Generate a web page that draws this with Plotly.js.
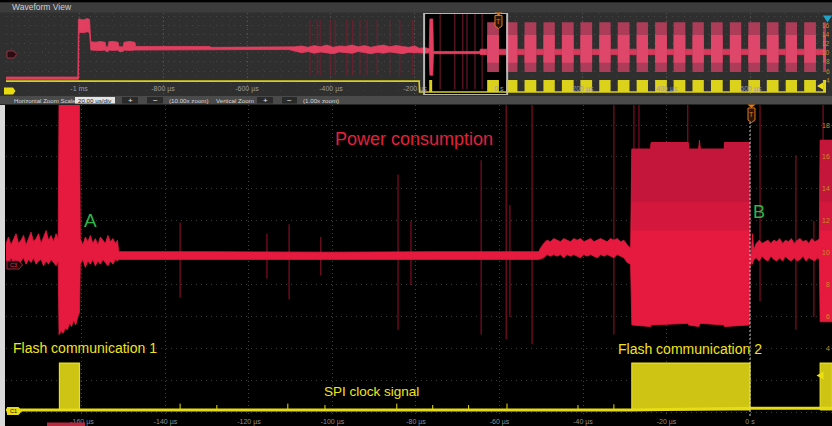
<!DOCTYPE html>
<html>
<head>
<meta charset="utf-8">
<script src="https://cdn.plot.ly/plotly-3.0.1.min.js"></script>
<style>
html, body { margin: 0; padding: 0; background: #000; overflow: hidden; }
#chart { width: 832px; height: 426px; }
</style>
</head>
<body>
<div id="chart"></div>
<script>
// ---------- Axis labels ----------
const mainTickVals = [-160, -140, -120, -100, -80, -60, -40, -20, 0];
const mainTickText = ['-160 µs', '-140 µs', '-120 µs', '-100 µs', '-80 µs', '-60 µs', '-40 µs', '-20 µs', '0 s'];
const ovTickVals = [-1000, -800, -600, -400, -200, 0, 200, 400, 600];
const ovTickText = ['-1 ms', '-800 µs', '-600 µs', '-400 µs', '-200 µs', '0 s', '200 µs', '400 µs', '600 µs'];
const c3ScaleMain = [4, 6, 8, 10, 12, 14, 16, 18];
const c3ScaleOverview = [4, 6, 8, 10, 12, 14, 16];

// ---------- Channel 3 (power), zoomed window: envelope, time in µs ----------
const c3T = [
  -178.2, -177.6, -177.0, -176.4, -175.8, -175.2, -174.6, -174.0, -173.4, -172.8, -172.2, -171.6, -171.0, -170.4, -169.8, -169.2, -168.6, -168.0, -167.4, -166.8, -166.2, -165.7,
  -165.5, -165.0, -164.5, -164.0, -163.5, -163.0, -162.5, -162.0, -161.5, -161.0, -160.6,
  -160.4, -159.8, -159.2, -158.6, -158.0, -157.4, -156.8, -156.2, -155.6, -155.0, -154.4, -153.8, -153.2, -152.6, -152.0, -151.5,
  -151.2, -130.0, -100.0, -75.0, -50.6,
  -50.2, -49.4, -48.6, -47.8, -47.0, -46.2, -45.4, -44.6, -43.8, -43.0, -42.2, -41.4, -40.6, -39.8, -39.0, -38.2, -37.4, -36.6, -35.8, -35.0, -34.2, -33.4, -32.6, -31.8, -31.0, -30.2, -29.4, -28.6,
  -28.3, -23.8, -23.7, -14.8, -14.7, -12.3, -12.1, -11.9, -6.2, -6.1, -0.1,
  0.0, 0.3, 0.6, 0.9, 1.5, 2.2, 2.9, 3.6, 4.3, 5.0, 5.7, 6.4, 7.1, 7.8, 8.5, 9.2, 9.9, 10.6, 11.3, 12.0, 12.7, 13.4, 14.1, 14.8, 15.5, 16.2, 16.6,
  16.8, 19.7
];
const c3Hi = [
  10.6, 11.0, 10.5, 10.9, 11.2, 10.6, 10.8, 11.1, 10.5, 10.9, 11.3, 10.7, 10.9, 11.2, 10.6, 11.0, 11.4, 10.8, 11.1, 10.7, 11.2, 10.9,
  19.5, 19.5, 19.5, 19.5, 19.5, 19.5, 19.5, 19.5, 19.5, 19.5, 19.5,
  10.9, 10.5, 11.0, 10.7, 11.1, 10.6, 10.9, 10.5, 11.0, 10.8, 10.6, 11.1, 10.7, 10.9, 10.6, 10.8,
  10.08, 10.08, 10.05, 10.08, 10.08,
  10.3, 10.6, 10.8, 10.7, 10.9, 10.8, 10.7, 10.9, 10.8, 10.7, 10.9, 10.8, 10.9, 10.7, 10.8, 10.9, 10.7, 10.8, 10.9, 10.8, 10.7, 10.9, 10.8, 10.9, 10.7, 10.8, 10.5, 10.3,
  16.5, 16.5, 16.9, 16.9, 16.5, 16.5, 17.05, 16.5, 16.5, 16.9, 16.9,
  9.8, 10.0, 11.2, 10.2, 10.6, 10.8, 10.6, 10.7, 10.8, 10.6, 10.8, 10.7, 10.9, 10.6, 10.8, 10.7, 10.9, 10.6, 10.8, 10.9, 10.7, 10.8, 10.6, 10.9, 10.7, 10.8, 10.9,
  17.05, 17.05
];
const c3Lo = [
  9.6, 9.3, 9.7, 9.4, 9.6, 9.2, 9.5, 9.7, 9.3, 9.6, 9.4, 9.7, 9.3, 9.5, 9.6, 9.2, 9.5, 9.3, 9.6, 9.4, 9.2, 9.5,
  4.9, 5.1, 5.0, 5.3, 5.2, 5.6, 5.4, 5.8, 5.5, 6.0, 6.3,
  9.3, 9.6, 9.1, 9.5, 9.3, 9.6, 9.2, 9.5, 9.3, 9.6, 9.4, 9.2, 9.5, 9.3, 9.6, 9.5,
  9.6, 9.6, 9.6, 9.6, 9.6,
  9.6, 9.7, 9.9, 9.8, 9.9, 9.8, 9.9, 9.7, 9.9, 9.8, 9.9, 9.8, 9.7, 9.9, 9.8, 9.9, 9.8, 9.7, 9.9, 9.8, 9.9, 9.8, 9.7, 9.9, 9.8, 9.7, 9.4, 9.3,
  5.5, 5.4, 5.5, 5.6, 5.5, 5.4, 5.5, 5.6, 5.5, 5.4, 5.5,
  9.2, 9.4, 9.3, 9.6, 9.7, 9.5, 9.8, 9.6, 9.5, 9.8, 9.6, 9.5, 9.7, 9.5, 9.8, 9.6, 9.5, 9.7, 9.5, 9.6, 9.8, 9.5, 9.7, 9.6, 9.5, 9.7, 9.6,
  5.7, 5.7
];
// upper, less dense part of the flash bursts (two shading steps)
const c3DimStart = [-28.3, 16.8];
const c3DimEnd = [-0.1, 19.7];
const c3DimFloorLight = [11.4, 11.4];
const c3DimFloorDark = [13.2, 13.2];
// glitch spikes on the supply trace
const c3SpikeT  = [-136.5, -115.7, -110.4, -102.8, -84.3, -81.2, -64.4, -58.4, -57.5, -52.2, -32.6, -27.8, -26.6, -14.9, 2.4, 11.0, 15.3, 17.5];
const c3SpikeLo = [7.2, 8.4, 7.1, 8.6, 5.2, 8.0, 4.9, 4.6, 6.0, 4.3, 4.9, 14.0, 14.0, 16.4, 7.0, 5.2, 6.0, 16.0];
const c3SpikeHi = [11.9, 11.2, 11.8, 11.0, 14.9, 12.0, 15.8, 19.3, 13.0, 19.3, 19.3, 19.3, 19.3, 19.3, 19.3, 16.1, 12.0, 19.3];

// ---------- Channel 1 (SPI clock), zoomed window, volts ----------
const c1BaseT = [-178.2, -100.0, -28.3, 0.0, 16.8, 19.7];
const c1BaseV = [0.0, 0.0, 0.0, 0.12, 0.12, 0.12];
const c1BurstStart = [-165.4, -28.3, 16.8];
const c1BurstEnd = [-160.6, 0.0, 19.7];
const c1BurstHigh = [3.3, 3.3, 3.3];
const c1TickT = [-136.5, -127.7, -110.7, -101.8, -84.6, -76.0, -67.4, -58.2, -41.2, -32.6];
const c1TickHi = [0.45, 0.35, 0.45, 0.35, 0.45, 0.35, 0.35, 0.45, 0.35, 0.4];

// ---------- Overview record (channel 3 envelope before the first burst) ----------
const ovT = [
  -1174, -1003, -1001.5, -1000.5, -990, -980, -975, -972, -960, -950, -938, -936, -931, -929, -920, -907, -905, -895, -893, -880, -867, -865, -800, -688, -686, -600, -500, -486,
  -470, -455, -440, -425, -410, -395, -380, -365, -350, -335, -320, -305, -290, -275, -260, -245, -230, -215, -200,
  -190, -175, -166, -164.5, -157.5, -156, -100, -46, -44, -29
];
const ovHi = [
  4.7, 4.7, 17.4, 17.4, 17.2, 17.5, 17.3, 12.4, 12.3, 12.5, 12.3, 11.3, 11.3, 12.4, 12.5, 12.3, 11.3, 11.3, 12.3, 12.5, 12.3, 11.4, 11.4, 11.4, 11.2, 11.2, 11.2, 11.3,
  11.5, 11.2, 11.6, 11.3, 11.7, 11.2, 11.5, 11.4, 11.7, 11.3, 11.6, 11.2, 11.5, 11.7, 11.3, 11.6, 11.4, 11.2, 11.5,
  11.0, 11.1, 10.9, 17.4, 17.4, 10.3, 10.3, 10.3, 10.8, 10.8
];
const ovLo = [
  4.2, 4.2, 4.2, 14.5, 14.4, 14.6, 14.4, 10.6, 10.6, 10.5, 10.6, 10.3, 10.3, 10.6, 10.5, 10.6, 10.3, 10.3, 10.6, 10.5, 10.6, 10.6, 10.6, 10.6, 10.7, 10.7, 10.7, 10.4,
  10.0, 10.3, 9.9, 10.2, 10.0, 9.8, 10.2, 10.0, 9.9, 10.3, 10.0, 9.8, 10.1, 9.9, 10.2, 10.0, 9.8, 10.1, 10.0,
  10.0, 9.9, 10.0, 5.1, 5.1, 9.8, 9.8, 9.8, 9.6, 9.6
];
// flash bursts seen in the overview (µs)
const ovBurstStart = [-28, 17, 61, 106, 150, 194, 239, 283, 328, 372, 416, 461, 505, 550, 594, 638, 683, 727, 772];
const ovBurstEnd   = [0, 44, 89, 133, 178, 222, 266, 311, 355, 400, 444, 488, 533, 577, 622, 666, 710, 755, 790];
const ovBurstTop = 16.7, ovBurstBottom = 5.8, ovCoreTop = 13.9, ovCoreBottom = 7.8;
const ovIdleTop = 10.8, ovIdleBottom = 9.6;
const ovSpikeT = [-450, -433, -426, -402, -390, -362, -348, -331, -314, -290, -260, -236, -205, -140, -105, -86, -76, -57, -40];
const ovSpikeLo = [5.1, 5.1, 5.1, 5.1, 5.1, 5.1, 5.1, 5.1, 5.1, 5.1, 5.1, 5.1, 5.1, 2.0, 2.0, 2.0, 2.0, 2.0, 2.0];
const ovSpikeHi = [17.2, 17.2, 17.2, 17.2, 17.2, 17.2, 17.2, 17.2, 17.2, 17.2, 17.2, 17.2, 17.2, 18.5, 18.5, 18.5, 18.5, 18.5, 18.5];
// channel 1 in the overview (volts)
const ovC1BaseT = [-1174, -190, -189, 779];
const ovC1BaseV = [3.0, 3.0, 0.0, 0.0];
const ovC1PulseStart = [-166];
const ovC1PulseEnd = [-159];
const ovC1High = 3.3;

// ---------- helpers that turn the arrays into drawable outlines ----------
function envelope(t, hi, lo) {
  return { x: t.concat(t.slice().reverse()), y: hi.concat(lo.slice().reverse()) };
}
function blocks(starts, ends, top, bottom) {
  const x = [], y = [];
  starts.forEach((s, i) => {
    const e = ends[i];
    const tp = Array.isArray(top) ? top[i] : top;
    const bt = Array.isArray(bottom) ? bottom[i] : bottom;
    x.push(s, s, e, e, s, null);
    y.push(bt, tp, tp, bt, bt, null);
  });
  return { x, y };
}
function spikes(t, lo, hi) {
  const x = [], y = [];
  t.forEach((v, i) => { x.push(v, v, null); y.push(lo[i], hi[i], null); });
  return { x, y };
}
// part of each burst envelope above a given floor
function burstTops(floors) {
  const x = [], y = [];
  c3DimStart.forEach((s, k) => {
    const e = c3DimEnd[k];
    c3T.forEach((t, i) => { if (t >= s && t <= e) { x.push(t); y.push(c3Hi[i]); } });
    x.push(e, s, null);
    y.push(floors[k], floors[k], null);
  });
  return { x, y };
}
function gapsBetween(starts, ends, top, bottom) {
  const s = [], e = [];
  for (let i = 0; i < starts.length - 1; i++) { s.push(ends[i]); e.push(starts[i + 1]); }
  return blocks(s, e, top, bottom);
}

const RED = '#e6193f';
const SPIKE = '#8c1028';
const YEL = '#e6dc12';
const YELBLK = '#cdc414';

const traces = [];
function poly(shape, color, xa, ya, lw) {
  traces.push({ type: 'scatter', mode: 'lines', x: shape.x, y: shape.y, xaxis: xa, yaxis: ya,
    fill: 'toself', fillcolor: color, line: { color: color, width: lw === undefined ? 0.6 : lw },
    hoverinfo: 'skip', connectgaps: false });
}
function lines(shape, color, width, xa, ya) {
  traces.push({ type: 'scatter', mode: 'lines', x: shape.x, y: shape.y, xaxis: xa, yaxis: ya,
    line: { color: color, width: width }, hoverinfo: 'skip', connectgaps: false });
}

// ---- overview ----
lines(spikes(ovSpikeT, ovSpikeLo, ovSpikeHi), '#7c1c30', 1, 'x2', 'y3');
poly(gapsBetween(ovBurstStart, ovBurstEnd, ovIdleTop, ovIdleBottom), '#d83a5c', 'x2', 'y3');
poly(blocks(ovBurstStart, ovBurstEnd, ovBurstTop, ovBurstBottom), '#ad3c58', 'x2', 'y3', 0);
poly(blocks(ovBurstStart, ovBurstEnd, ovCoreTop, ovCoreBottom), '#de4769', 'x2', 'y3', 0);
poly(envelope(ovT, ovHi, ovLo), '#e23e60', 'x2', 'y3', 0.8);
lines({ x: ovC1BaseT, y: ovC1BaseV }, '#d8ce1e', 1.6, 'x2', 'y4');
poly(blocks(ovC1PulseStart.concat(ovBurstStart), ovC1PulseEnd.concat(ovBurstEnd), ovC1High, 0), '#dcd21c', 'x2', 'y4', 0);

// ---- zoomed window ----
lines(spikes(c3SpikeT, c3SpikeLo, c3SpikeHi), SPIKE, 1.1, 'x', 'y');
poly(envelope(c3T, c3Hi, c3Lo), RED, 'x', 'y', 0.8);
poly(burstTops(c3DimFloorLight), '#d4183d', 'x', 'y', 0);
poly(burstTops(c3DimFloorDark), '#c3163a', 'x', 'y', 0);
lines(spikes(c1TickT, c1TickT.map(() => 0), c1TickHi), YEL, 1, 'x', 'y2');
poly(blocks(c1BurstStart, c1BurstEnd, c1BurstHigh, 0), YELBLK, 'x', 'y2', 0);
lines({ x: c1BaseT, y: c1BaseV }, YEL, 3, 'x', 'y2');
lines(blocks(c1BurstStart, c1BurstEnd, c1BurstHigh, 0), '#e8de24', 1.2, 'x', 'y2');

// ---------- layout ----------
const W = 832, H = 426;
const px = v => v / W;
const py = v => 1 - v / H;
const FONT = 'Liberation Sans, Arial, sans-serif';

function rect(x0, y0, x1, y1, fill, layer, line) {
  return { type: 'rect', xref: 'paper', yref: 'paper', x0: px(x0), x1: px(x1), y0: py(y1), y1: py(y0),
    fillcolor: fill, line: line || { width: 0 }, layer: layer || 'below' };
}
function path(points, fill, line) {
  const d = points.map((p, i) => (i ? 'L' : 'M') + px(p[0]).toFixed(5) + ',' + py(p[1]).toFixed(5)).join(' ') + ' Z';
  return { type: 'path', xref: 'paper', yref: 'paper', path: d, fillcolor: fill,
    line: line || { width: 0 }, layer: 'above' };
}
function label(text, x, y, size, color, anchor, extra) {
  return Object.assign({ text: text, xref: 'paper', yref: 'paper', x: px(x), y: py(y),
    xanchor: anchor || 'left', yanchor: 'middle', showarrow: false,
    font: { family: FONT, size: size, color: color } }, extra || {});
}

const shapes = [
  rect(0, 2.5, 832, 95.5, '#2f2f2f'),
  rect(0, 2.5, 832, 12.5, '#3c3c3c'),
  rect(0, 95.5, 832, 104.5, '#4a4a4a'),
  rect(0, 105, 5, 426, '#d9d9d9'),
  // zoom window inside the overview (over the grid, under the traces)
  { type: 'rect', xref: 'x2', yref: 'y3', x0: -178.2, x1: 19.6, y0: 0.77, y1: 18.71, fillcolor: '#000', line: { width: 0 }, layer: 'between' },
  { type: 'rect', xref: 'x2', yref: 'y3', x0: -178.2, x1: 19.6, y0: 0.77, y1: 18.71, fillcolor: 'rgba(0,0,0,0)', line: { color: '#b6b6b6', width: 2 }, layer: 'above' },
  // control bar widgets
  rect(75, 97, 115, 103.5, '#e4e4e4', 'above'),
  rect(122, 97, 138, 103.5, '#2a2a2a', 'above'),
  rect(147, 97, 163, 103.5, '#2a2a2a', 'above'),
  rect(257, 97, 273, 103.5, '#2a2a2a', 'above'),
  rect(282, 97, 297, 103.5, '#2a2a2a', 'above'),
  // trigger position
  { type: 'line', xref: 'x', yref: 'paper', x0: 0, x1: 0, y0: py(416), y1: py(122), line: { color: '#cfcfcf', width: 1, dash: '2px,2px' }, layer: 'above' },
  path([[747.5, 104.5], [755.5, 104.5], [751.5, 108]], '#e07a18'),
  path([[748, 108], [755, 108], [755, 120], [751.5, 122.5], [748, 120]], '#2a1404', { color: '#e07a18', width: 1 }),
  path([[494.5, 12.5], [502.5, 12.5], [498.5, 15.5]], '#e07a18'),
  path([[495, 15.5], [502, 15.5], [502, 26], [498.5, 28.5], [495, 26]], '#2a1404', { color: '#e07a18', width: 1 }),
  // channel badges
  path([[7, 261], [19, 261], [22.5, 265], [19, 269], [7, 269]], '#1c0609', { color: '#a02236', width: 1 }),
  path([[7, 407], [18.5, 407], [22, 411], [18.5, 415], [7, 415]], '#e8dc10'),
  path([[7, 51], [14, 51], [16.5, 54.5], [14, 58], [7, 58]], '#2a0c12', { color: '#9a3040', width: 1 }),
  path([[4, 87.5], [13, 87.5], [15.5, 91], [13, 94.5], [4, 94.5]], '#e8dc10'),
  // trigger level arrows and overview marker
  path([[823.5, 371.5], [816.5, 375.5], [823.5, 379.5]], '#ecdf14'),
  path([[823, 82.5], [817, 86], [823, 89.5]], '#ecdf14'),
  path([[823, 15.5], [832, 15.5], [827.5, 22.5]], '#1fa3c8'),
  rect(47, 422.5, 85, 426, '#b8283f', 'above')
];

const annotations = [
  label('Waveform View', 10, 7.5, 8.5, '#d0d0d0'),
  label('Horizontal Zoom Scale', 12, 100.3, 6.1, '#d6d6d6'),
  label('20.00 us/div', 95, 100.3, 6.2, '#222', 'center'),
  label('+', 130, 100.1, 8, '#eeeeee', 'center'),
  label('−', 155, 100.1, 8, '#eeeeee', 'center'),
  label('(10.00x zoom)', 167, 100.3, 6.2, '#d6d6d6'),
  label('Vertical Zoom', 214, 100.3, 6.2, '#d6d6d6'),
  label('+', 265, 100.1, 8, '#eeeeee', 'center'),
  label('−', 289.5, 100.1, 8, '#eeeeee', 'center'),
  label('(1.00x zoom)', 301, 100.3, 6.2, '#d6d6d6'),
  label('Power consumption', 414, 139, 18, '#e3203e', 'center'),
  label('A', 90, 220, 19, '#2db54c', 'center'),
  label('B', 759, 212, 18, '#2db54c', 'center'),
  label('Flash communication 1', 11, 348, 14, '#f2e41a'),
  label('Flash communication 2', 616, 349, 14, '#f2e41a'),
  label('SPI clock signal', 322, 391, 13.5, '#f2e41a'),
  label('C3', 13.5, 265.2, 5.5, '#d83452', 'center'),
  label('C1', 13, 411.2, 5.5, '#111', 'center'),
  label('T', 751.5, 114.5, 7, '#e07a18', 'center'),
  label('T', 498.5, 21.5, 7, '#e07a18', 'center')
];
c3ScaleMain.forEach(v => annotations.push({ text: String(v), xref: 'paper', yref: 'y', x: px(832), y: v,
  xanchor: 'right', yanchor: 'middle', showarrow: false, font: { family: FONT, size: 7, color: '#d08a28' } }));
c3ScaleOverview.forEach(v => annotations.push({ text: String(v), xref: 'paper', yref: 'y3', x: px(832), y: v,
  xanchor: 'right', yanchor: 'middle', showarrow: false, font: { family: FONT, size: 6.5, color: '#d08a28' } }));

const layout = {
  width: W, height: H,
  margin: { l: 0, r: 0, t: 0, b: 0, pad: 0 },
  paper_bgcolor: '#000', plot_bgcolor: 'rgba(0,0,0,0)',
  showlegend: false,
  font: { family: FONT },
  xaxis: {
    domain: [px(6), 1], range: [-178.2, 19.64], anchor: 'y',
    tickmode: 'array', tickvals: mainTickVals, ticktext: mainTickText, ticks: '',
    tickfont: { size: 7, color: '#8e8e8e' },
    showgrid: true, gridcolor: '#3e3e3e', griddash: '1px,3px', gridwidth: 1,
    zeroline: false, showline: false, fixedrange: true
  },
  yaxis: {
    domain: [py(416), py(105)], range: [-0.19, 19.25], anchor: 'x',
    tickmode: 'array', tickvals: [0, 2, 4, 6, 8, 10, 12, 14, 16, 18], showticklabels: false, ticks: '',
    showgrid: true, gridcolor: '#3a3a3a', griddash: '1px,4px', zeroline: false, showline: false, fixedrange: true
  },
  yaxis2: { overlaying: 'y', anchor: 'x', range: [-0.42, 21.42], visible: false, fixedrange: true },
  xaxis2: {
    domain: [px(6), px(826)], range: [-1174, 779], anchor: 'y3',
    tickmode: 'array', tickvals: ovTickVals, ticktext: ovTickText, ticks: '',
    ticklabelposition: 'inside', tickfont: { size: 7, color: '#9c9c9c' },
    showgrid: true, gridcolor: '#555555', griddash: '1px,3px',
    minor: { dtick: 40, tick0: 0, showgrid: true, gridcolor: '#3f3f3f', griddash: '1px,6px' },
    zeroline: false, showline: false, fixedrange: true
  },
  yaxis3: {
    domain: [py(95), py(13)], range: [0.77, 18.71], anchor: 'x2',
    tickmode: 'array', tickvals: [2, 4, 6, 8, 10, 12, 14, 16, 18], showticklabels: false, ticks: '',
    showgrid: true, gridcolor: '#474747', griddash: '1px,5px', zeroline: false, showline: false, fixedrange: true
  },
  yaxis4: { overlaying: 'y3', anchor: 'x2', range: [-0.82, 21.7], visible: false, fixedrange: true },
  shapes: shapes,
  annotations: annotations
};

Plotly.newPlot('chart', traces, layout, { displayModeBar: false, staticPlot: true });
</script>
</body>
</html>
